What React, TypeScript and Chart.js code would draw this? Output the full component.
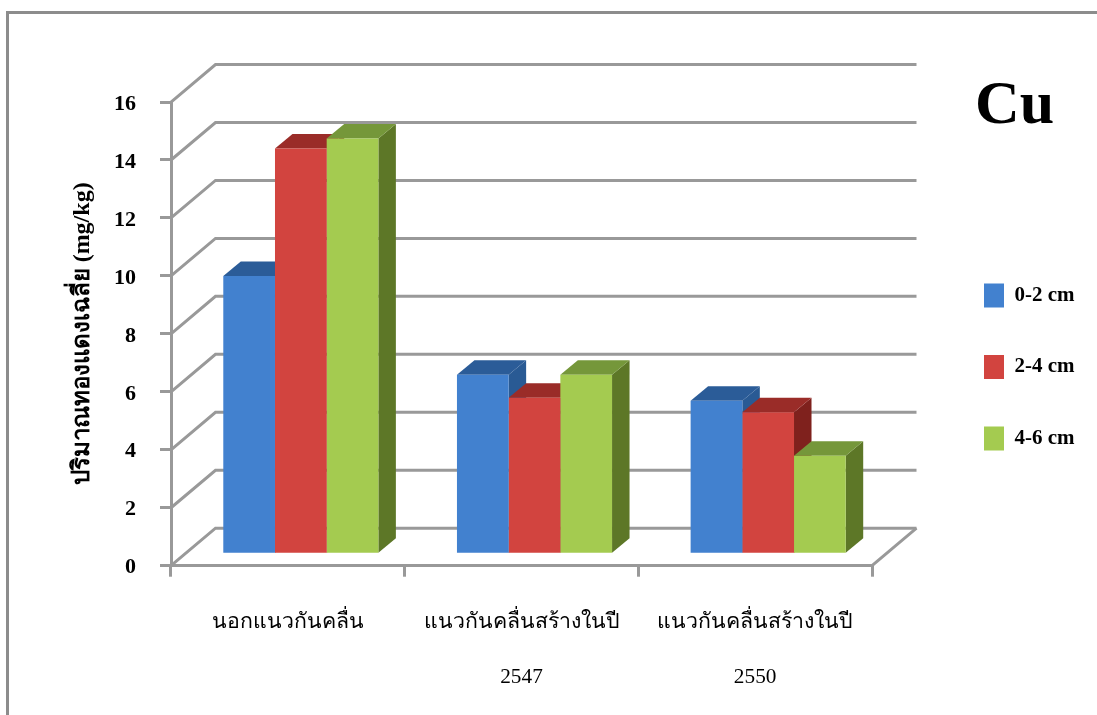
import React, { useEffect, useRef } from "react";
import { Chart, registerables } from "chart.js";

Chart.register(...registerables);

const categories = [
  "นอกแนวกันคลื่น",
  ["แนวกันคลื่นสร้างในปี", "2547"],
  ["แนวกันคลื่นสร้างในปี", "2550"],
];
const depth0to2 = [9.6, 6.2, 5.3];
const depth2to4 = [14.0, 5.4, 4.9];
const depth4to6 = [14.35, 6.2, 3.4];

const seriesNames = ["0-2 cm", "2-4 cm", "4-6 cm"];
const frontColors = ["#4281CF", "#D2443F", "#A4CB50"];
const topColors = ["#2B5C98", "#9A2C28", "#75973A"];
const sideColors = ["#295A94", "#7F211D", "#5D7727"];

const yAxisTitle = "ปริมาณทองแดงเฉลี่ย (mg/kg)";
const elementName = "Cu";

const GRID = "#999999";
const SERIF = "'Liberation Serif', 'Times New Roman', serif";

// Oblique projection used for the fake 3D look.
const WALL = { dx: 44.5, dy: -37.5 };
const BAR_SHIFT = { dx: 13, dy: -11.4 };
const BAR_DEPTH = { dx: 17.5, dy: -14.5 };

const polygon = (ctx: any, color: string, pts: number[][]) => {
  ctx.fillStyle = color;
  ctx.beginPath();
  pts.forEach(([x, y], i) => (i ? ctx.lineTo(x, y) : ctx.moveTo(x, y)));
  ctx.closePath();
  ctx.fill();
};

const wallPlugin = {
  id: "wall",
  beforeDatasetsDraw(chart: any) {
    const { ctx, chartArea, scales } = chart;
    ctx.save();
    ctx.strokeStyle = GRID;
    ctx.lineWidth = 3;
    scales.y.ticks.forEach((_: any, i: number) => {
      const p = scales.y.getPixelForTick(i);
      ctx.beginPath();
      ctx.moveTo(chartArea.left, p);
      ctx.lineTo(chartArea.left + WALL.dx, p + WALL.dy);
      ctx.lineTo(chartArea.right + WALL.dx, p + WALL.dy);
      ctx.stroke();
    });
    ctx.beginPath();
    ctx.moveTo(chartArea.right, chartArea.bottom);
    ctx.lineTo(chartArea.right + WALL.dx, chartArea.bottom + WALL.dy);
    ctx.stroke();
    ctx.restore();
  },
};

// Top and side faces go down first, left series to right; the library then
// paints the front faces over them, shifted into the depth of the box.
const blockPlugin = {
  id: "block",
  beforeDatasetsDraw(chart: any) {
    const { ctx } = chart;
    const { dx, dy } = BAR_DEPTH;
    ctx.save();
    ctx.translate(BAR_SHIFT.dx, BAR_SHIFT.dy);
    chart.data.datasets.forEach((_: any, i: number) => {
      chart.getDatasetMeta(i).data.forEach((bar: any) => {
        const l = bar.x - bar.width / 2;
        const r = bar.x + bar.width / 2;
        const t = bar.y;
        const b = bar.base;
        polygon(ctx, sideColors[i], [[r, t], [r + dx, t + dy], [r + dx, b + dy], [r, b]]);
        polygon(ctx, topColors[i], [[l, t], [l + dx, t + dy], [r + dx, t + dy], [r, t]]);
      });
    });
    ctx.restore();
  },
  beforeDatasetDraw(chart: any) {
    chart.ctx.save();
    chart.ctx.translate(BAR_SHIFT.dx, BAR_SHIFT.dy);
  },
  afterDatasetDraw(chart: any) {
    chart.ctx.restore();
  },
};

// Places the element symbol and the legend in the right-hand margin.
const placementPlugin = {
  id: "placement",
  afterLayout(chart: any) {
    const title = chart.titleBlock;
    title.left = 975;
    title.right = 1090;
    title.top = 69;
    const legend = chart.legend;
    const h = legend.height;
    legend.left = 936.5;
    legend.right = 1097;
    legend.width = 1097 - 936.5;
    legend.top = 236;
    legend.bottom = 236 + h;
  },
};

export default function App() {
  const ref = useRef<HTMLCanvasElement>(null);
  useEffect(() => {
    const values = [depth0to2, depth2to4, depth4to6];
    const chart = new Chart(ref.current!, {
      type: "bar",
      data: {
        labels: categories as any,
        datasets: values.map((data, i) => ({
          label: seriesNames[i],
          data,
          backgroundColor: frontColors[i],
          borderWidth: 0,
          clip: false as any,
          barPercentage: 1,
          categoryPercentage: 0.6637,
        })),
      },
      options: {
        responsive: false,
        animation: false,
        layout: {
          autoPadding: false,
          padding: { left: 68, top: 26.4, right: 95, bottom: 0 },
        },
        plugins: {
          tooltip: { enabled: false },
          title: {
            display: true,
            text: elementName,
            align: "start",
            color: "#000",
            padding: 0,
            font: { family: SERIF, size: 62, weight: "bold", lineHeight: 1.22 },
          },
          legend: {
            position: "right",
            align: "start",
            maxWidth: 130,
            labels: {
              boxWidth: 20,
              boxHeight: 24,
              padding: 47.5,
              color: "#000",
              font: { family: SERIF, size: 21, weight: "bold" },
            },
          },
        },
        scales: {
          x: {
            grid: { drawOnChartArea: false, color: GRID, lineWidth: 3, tickLength: 11 },
            border: { color: GRID, width: 3 },
            ticks: {
              color: "#000",
              padding: 18,
              maxRotation: 0,
              autoSkip: false,
              font: { family: SERIF, size: 21.3, lineHeight: 2.58 },
            },
            afterFit(s: any) {
              s.height = 149.3;
            },
          },
          y: {
            min: 0,
            max: 16,
            grid: { drawOnChartArea: false, color: GRID, lineWidth: 3, tickLength: 11 },
            border: { color: GRID, width: 3 },
            ticks: {
              stepSize: 2,
              color: "#000",
              padding: 24,
              labelOffset: 2,
              font: { family: SERIF, size: 22, weight: "bold" },
            },
            title: {
              display: true,
              text: yAxisTitle,
              color: "#000",
              padding: 0,
              font: { family: SERIF, size: 24, weight: "bold" },
            },
            afterFit(s: any) {
              s.width = 103;
            },
          },
        },
      },
      plugins: [wallPlugin, blockPlugin, placementPlugin],
    } as any);
    return () => chart.destroy();
  }, []);

  return (
    <div style={{ position: "absolute", left: 0, top: 0, width: 1097, height: 715, overflow: "hidden", background: "#fff" }}>
      <div
        style={{
          position: "absolute",
          left: 6,
          top: 11,
          right: 0,
          bottom: 0,
          borderTop: "3px solid #8c8c8c",
          borderLeft: "3px solid #8c8c8c",
        }}
      />
      <canvas ref={ref} width={1097} height={715} style={{ position: "absolute", left: 0, top: 0, display: "block" }} />
    </div>
  );
}
